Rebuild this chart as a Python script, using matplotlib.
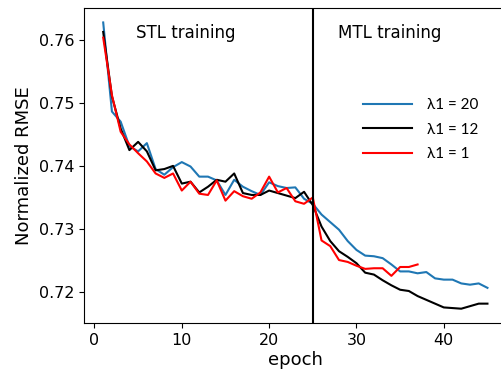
import matplotlib
matplotlib.use("Agg")
import matplotlib.pyplot as plt
import numpy as np

epochs_full = list(range(1, 46))
epochs_red = list(range(1, 38))

rmse_l20 = [0.7627, 0.7486, 0.7470, 0.7431, 0.7423, 0.7436, 0.7395, 0.7386, 0.7398, 0.7406,
            0.7399, 0.7383, 0.7383, 0.7377, 0.7354, 0.7378, 0.7367, 0.7360, 0.7354, 0.7374,
            0.7368, 0.7365, 0.7366, 0.7348, 0.7340, 0.7323, 0.7311, 0.7299, 0.7281, 0.7267,
            0.7258, 0.7257, 0.7254, 0.7244, 0.7233, 0.7233, 0.7230, 0.7232, 0.7222, 0.7220,
            0.7220, 0.7214, 0.7212, 0.7214, 0.7207]
rmse_l12 = [0.7612, 0.7510, 0.7459, 0.7425, 0.7438, 0.7423, 0.7393, 0.7395, 0.7400, 0.7372,
            0.7375, 0.7358, 0.7367, 0.7378, 0.7375, 0.7388, 0.7357, 0.7354, 0.7354, 0.7361,
            0.7357, 0.7353, 0.7349, 0.7359, 0.7338, 0.7304, 0.7281, 0.7265, 0.7256, 0.7246,
            0.7231, 0.7228, 0.7219, 0.7211, 0.7204, 0.7202, 0.7194, 0.7188, 0.7182, 0.7176,
            0.7175, 0.7174, 0.7178, 0.7182, 0.7182]
rmse_l1 = [0.7603, 0.7512, 0.7454, 0.7434, 0.7420, 0.7407, 0.7388, 0.7381, 0.7388, 0.7361,
           0.7375, 0.7356, 0.7354, 0.7377, 0.7345, 0.7360, 0.7352, 0.7348, 0.7358, 0.7383,
           0.7358, 0.7365, 0.7344, 0.7340, 0.7350, 0.7282, 0.7273, 0.7251, 0.7248, 0.7242,
           0.7237, 0.7238, 0.7238, 0.7226, 0.7240, 0.7240, 0.7244]

labels = ["λ1 = 20", "λ1 = 12", "λ1 = 1"]
colors = ["#1f77b4", "black", "red"]
switch_epoch = 25
phase_labels = ["STL training", "MTL training"]

fig = plt.figure(figsize=(5.02, 3.70), dpi=100)
ax = fig.add_axes([0.1673, 0.127, 0.842, 0.851])

ax.plot(epochs_full, rmse_l20, color=colors[0], lw=1.5, label=labels[0])
ax.plot(epochs_full, rmse_l12, color=colors[1], lw=1.5, label=labels[1])
ax.plot(epochs_red, rmse_l1, color=colors[2], lw=1.5, label=labels[2])
ax.axvline(switch_epoch, color="black", lw=1.5)

ax.text(10.5, 0.7610, phase_labels[0], fontsize=12, ha="center", va="center")
ax.text(33.8, 0.7610, phase_labels[1], fontsize=12, ha="center", va="center")

ax.set_xticks([0, 10, 20, 30, 40])
ax.set_yticks([0.72, 0.73, 0.74, 0.75, 0.76])
ax.tick_params(labelsize=11.5)
ax.set_xlabel("epoch", fontsize=13, labelpad=2)
ax.set_ylabel("Normalized RMSE", fontsize=13)

leg = ax.legend(loc="upper left", bbox_to_anchor=(0.628, 0.758), frameon=False,
                handlelength=3.2, handletextpad=1.0, labelspacing=0.70,
                prop={"family": ["Lato", "DejaVu Sans"], "size": 11})

fig.savefig("out.png", dpi=100)
